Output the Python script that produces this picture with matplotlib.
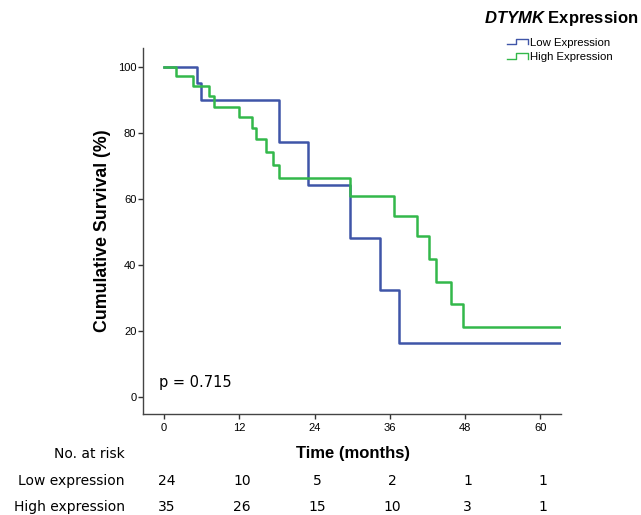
import matplotlib
matplotlib.use('Agg')
import matplotlib.pyplot as plt
import matplotlib.transforms as mtransforms
from matplotlib.lines import Line2D
from matplotlib.legend_handler import HandlerLine2D

plt.rcParams['mathtext.fontset'] = 'custom'
plt.rcParams['mathtext.bfit'] = 'Liberation Sans:italic:bold'
plt.rcParams['mathtext.rm'] = 'Liberation Sans'
plt.rcParams['mathtext.bf'] = 'Liberation Sans:bold'
plt.rcParams['mathtext.it'] = 'Liberation Sans:italic'

# ---- data ----
low_times = [0, 5.2, 5.85, 18.4, 23.0, 29.7, 34.5, 37.5, 63.3]
low_surv = [100, 95.2, 89.9, 77.2, 64.4, 48.3, 32.4, 16.3, 16.3]

high_times = [0, 1.9, 4.6, 7.2, 7.9, 11.9, 14.0, 14.7, 16.2, 17.3, 18.3,
              29.7, 36.7, 40.3, 42.3, 43.3, 45.8, 47.7, 63.3]
high_surv = [100, 97.2, 94.2, 91.1, 88.0, 84.9, 81.6, 78.1, 74.2, 70.4, 66.4,
             60.9, 54.8, 48.8, 41.9, 34.9, 28.1, 21.1, 21.1]

xticks = [0, 12, 24, 36, 48, 60]
yticks = [0, 20, 40, 60, 80, 100]
risk_low = [24, 10, 5, 2, 1, 1]
risk_high = [35, 26, 15, 10, 3, 1]
series_names = ["Low Expression", "High Expression"]
risk_names = ["Low expression", "High expression"]
p_text = "p = 0.715"

BLUE = '#3F55A8'
GREEN = '#33B84A'
ARIAL = 'Liberation Sans'
VERD = 'DejaVu Sans'


class StepHandler(HandlerLine2D):
    def create_artists(self, legend, orig_handle, xdescent, ydescent,
                       width, height, fontsize, trans):
        x0 = -xdescent
        x1 = x0 + width
        yl = -ydescent + height * 0.15
        yh = -ydescent + height * 0.85
        xs = [x0, x0 + width * 0.45, x0 + width * 0.45, x1, x1]
        ys = [yl, yl, yh, yh, yl]
        line = Line2D(xs, ys, color=orig_handle.get_color(), lw=1.0)
        line.set_transform(trans)
        return [line]


fig = plt.figure(figsize=(6.41, 5.15), dpi=100)
ax = fig.add_axes([143 / 641, 101.5 / 515, 418 / 641, 365.2 / 515])

l1, = ax.step(low_times, low_surv, where='post', color=BLUE, lw=1.8,
              label=series_names[0], zorder=3)
l2, = ax.step(high_times, high_surv, where='post', color=GREEN, lw=1.8,
              label=series_names[1], zorder=4)

ax.set_xlim(-3.35, 63.3)
ax.set_ylim(-5, 105.7)
ax.set_xticks(xticks)
ax.set_yticks(yticks)
ax.set_xticklabels([str(t) for t in xticks], fontsize=8, family=ARIAL)
ax.set_yticklabels([str(t) for t in yticks], fontsize=8, family=ARIAL)
ax.tick_params(direction='out', length=3.8, width=1, color='#333333')
ax.tick_params(axis='y', pad=1)
ax.tick_params(axis='x', pad=3)
for s in ['top', 'right']:
    ax.spines[s].set_visible(False)
for s in ['left', 'bottom']:
    ax.spines[s].set_color('#444444')
    ax.spines[s].set_linewidth(1)

ax.set_ylabel("Cumulative Survival (%)", fontsize=12.8, fontweight='bold',
              family=ARIAL)
ax.yaxis.set_label_coords((111 - 143) / 418, 0.5)
ax.set_xlabel("Time (months)", fontsize=12, fontweight='bold', family=ARIAL)
ax.xaxis.set_label_coords((353 - 143) / 418, (413.5 - 446) / 365.2)

ax.text((159 - 143) / 418, (413.5 - 382) / 365.2, p_text,
        transform=ax.transAxes, fontsize=10.5,
        family=VERD, ha='left', va='center')

# title & legend
fig.text(638 / 641, 1 - 18 / 515, r"$\bfit{DTYMK}$ Expression", fontsize=12,
         fontweight='bold', family=ARIAL, ha='right', va='center')
leg = fig.legend(handles=[l1, l2], labels=series_names,
                 handler_map={Line2D: StepHandler()},
                 loc='upper left', bbox_to_anchor=(507 / 641, 1 - 37.5 / 515),
                 frameon=False, prop={'family': ARIAL, 'size': 8.2},
                 handlelength=1.8, handletextpad=0.25, labelspacing=0.4,
                 borderaxespad=0, borderpad=0)

# risk table
trans = mtransforms.blended_transform_factory(ax.transData, fig.transFigure)
fig.text(125 / 641, 1 - 454 / 515, "No. at risk", fontsize=10, family=VERD,
         ha='right', va='center')
fig.text(125 / 641, 1 - 481 / 515, risk_names[0], fontsize=10, family=VERD,
         ha='right', va='center')
fig.text(125 / 641, 1 - 507 / 515, risk_names[1], fontsize=10, family=VERD,
         ha='right', va='center')
for t, n in zip(xticks, risk_low):
    ax.text(t + 0.4, 1 - 481 / 515, str(n), transform=trans, fontsize=10,
            family=VERD, ha='center', va='center', clip_on=False)
for t, n in zip(xticks, risk_high):
    ax.text(t + 0.4, 1 - 507 / 515, str(n), transform=trans, fontsize=10,
            family=VERD, ha='center', va='center', clip_on=False)

fig.savefig('out.png', dpi=100)
